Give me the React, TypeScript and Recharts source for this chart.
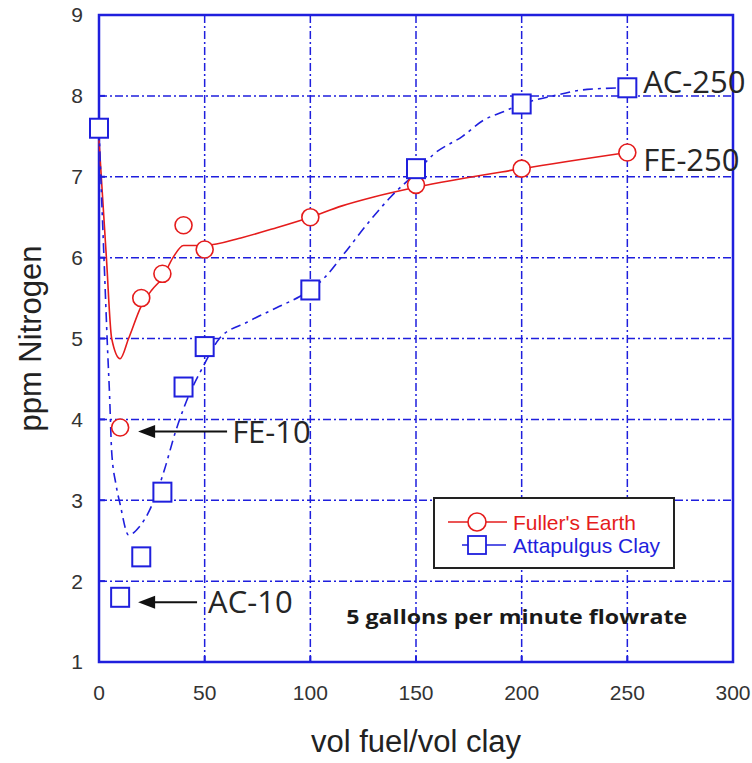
// Nitrogen in fuel vs volume of fuel treated per volume of clay (5 gpm flowrate)
import {
  ComposedChart,
  Line,
  Scatter,
  XAxis,
  YAxis,
  CartesianGrid,
  ReferenceArea,
  ReferenceLine,
  Legend,
} from "recharts";

const xTicks = [0, 50, 100, 150, 200, 250, 300];
const yTicks = [1, 2, 3, 4, 5, 6, 7, 8, 9];

const seriesNames = ["Fuller's Earth", "Attapulgus Clay"];

// measured points
const feX = [10, 20, 30, 40, 50, 100, 150, 200, 250];
const feY = [3.9, 5.5, 5.8, 6.4, 6.1, 6.5, 6.9, 7.1, 7.3];
const acX = [0, 10, 20, 30, 40, 50, 100, 150, 200, 250];
const acY = [7.6, 1.8, 2.3, 3.1, 4.4, 4.9, 5.6, 7.1, 7.9, 8.1];

// hand-drawn fit curves
const feFitX = [0, 3.5, 6, 10, 14, 20, 25, 30, 35, 40, 50, 68, 84, 100, 115, 130, 150, 200, 250];
const feFitY = [7.45, 6.0, 5.0, 4.75, 5.0, 5.4, 5.6, 5.75, 6.0, 6.15, 6.15, 6.25, 6.37, 6.5, 6.64, 6.75, 6.87, 7.1, 7.3];
const acFitX = [0, 1, 2.5, 4, 5, 6, 8, 10, 14, 19, 24, 26, 31, 36, 41, 49, 57, 70, 84, 95, 100, 107, 116, 128, 138, 150, 158, 172, 182, 191, 200, 215, 231, 250];
const acFitY = [7.6, 6.9, 5.9, 4.9, 4.3, 3.6, 3.2, 2.95, 2.57, 2.67, 2.88, 3.0, 3.38, 3.83, 4.2, 4.64, 5.0, 5.2, 5.38, 5.52, 5.6, 5.76, 6.05, 6.45, 6.75, 7.05, 7.27, 7.5, 7.7, 7.8, 7.9, 8.0, 8.08, 8.1];

// callouts
const noteText = ["FE-10", "AC-10", "FE-250", "AC-250"];
const noteX = [63, 51.6, 257.5, 257.5];
const noteY = [3.85, 1.74, 7.21, 8.17];
const arrowTipX = [18.5, 18.5];
const arrowTailX = [60.6, 46.4];
const arrowY = [3.85, 1.74];
const caption = "5 gallons per minute flowrate";
const captionX = 117;
const captionY = 1.56;

const BLUE = "#1f1fdd";
const RED = "#e51c1c";

const zip = (xs: number[], ys: number[]) => xs.map((x, i) => ({ x, y: ys[i] }));
const feData = zip(feX, feY);
const acData = zip(acX, acY);
const feFit = zip(feFitX, feFitY);
const acFit = zip(acFitX, acFitY);
const notes = noteText.map((label, i) => ({ x: noteX[i], y: noteY[i], label }));
const captionData = [{ x: captionX, y: captionY, label: caption }];

const tickStyle = { fill: "#333", fontSize: 21, fontFamily: "Liberation Sans, Arial, sans-serif" };

const Circle = (p: any) => (
  <circle cx={p.cx} cy={p.cy} r={8.5} fill="#fff" stroke={RED} strokeWidth={1.6} />
);
const Square = (p: any) => (
  <rect x={p.cx - 9} y={p.cy - 9.5} width={18} height={19} fill="#fff" stroke={BLUE} strokeWidth={2} />
);
const NoteText = (p: any) => (
  <text x={p.cx} y={p.cy} dy="0.36em" fontSize={31} fontFamily="Open Sans, sans-serif" fill="#262626">
    {p.payload.label}
  </text>
);
const CaptionText = (p: any) => (
  <text
    x={p.cx}
    y={p.cy}
    dy="0.36em"
    fontSize={19}
    fontWeight="bold"
    fontFamily="Open Sans, sans-serif"
    fill="#1a1a1a"
    textLength={341}
    lengthAdjust="spacingAndGlyphs"
  >
    {p.payload.label}
  </text>
);
const Arrow = (p: any) => {
  const { x1, y1, x2, y2 } = p;
  const tip = Math.min(x1, x2);
  const tail = Math.max(x1, x2);
  return (
    <g>
      <line x1={tip + 12} y1={y1} x2={tail} y2={y2} stroke="#111" strokeWidth={2} />
      <polygon points={`${tip},${y1} ${tip + 17},${y1 - 6.5} ${tip + 17},${y1 + 6.5}`} fill="#111" />
    </g>
  );
};

function FigLegend() {
  return (
    <svg width={242} height={72} style={{ display: "block" }}>
      <rect x={1} y={1} width={240} height={70} fill="#fff" stroke="#222" strokeWidth={2} />
      <line x1={15} y1={25} x2={74} y2={25} stroke={RED} strokeWidth={1.6} />
      <circle cx={44} cy={25} r={9} fill="#fff" stroke={RED} strokeWidth={1.6} />
      <text x={80} y={25} dy="0.36em" fontSize={21} fontFamily="Liberation Sans, Arial" fill={RED}>
        {seriesNames[0]}
      </text>
      <line x1={29} y1={48} x2={73} y2={48} stroke={BLUE} strokeWidth={1.6} />
      <rect x={35} y={39} width={18} height={18} fill="#fff" stroke={BLUE} strokeWidth={1.8} />
      <text x={80} y={48} dy="0.36em" fontSize={21} fontFamily="Liberation Sans, Arial" fill={BLUE}>
        {seriesNames[1]}
      </text>
    </svg>
  );
}

export default function App() {
  return (
    <div style={{ position: "absolute", left: 0, top: 0, background: "#fff" }}>
      <ComposedChart width={752} height={763} margin={{ top: 15, right: 19, left: 0, bottom: 0 }}>
        <CartesianGrid stroke={BLUE} strokeDasharray="8 3 2 3" strokeWidth={1.5} />
        <XAxis
          dataKey="x"
          type="number"
          domain={[0, 300]}
          ticks={xTicks}
          interval={0}
          height={101}
          axisLine={false}
          tickSize={-6}
          tickMargin={29}
          tickLine={{ stroke: BLUE, strokeWidth: 2 }}
          tick={tickStyle}
          label={{
            value: "vol fuel/vol clay",
            position: "insideBottom",
            offset: 11,
            style: { fill: "#222", fontSize: 31, fontFamily: "Liberation Sans, Arial" },
          }}
        />
        <YAxis
          dataKey="y"
          type="number"
          domain={[1, 9]}
          ticks={yTicks}
          interval={0}
          width={99}
          axisLine={false}
          tickSize={-6}
          tickMargin={22}
          tickLine={{ stroke: BLUE, strokeWidth: 2 }}
          tick={tickStyle}
          label={{
            value: "ppm Nitrogen",
            angle: -90,
            position: "insideLeft",
            offset: 30,
            style: { textAnchor: "middle", fill: "#222", fontSize: 31, fontFamily: "Liberation Sans, Arial" },
          }}
        />
        <ReferenceArea x1={0} x2={300} y1={1} y2={9} fill="none" stroke={BLUE} strokeWidth={2.5} />
        <Legend
          layout="horizontal"
          verticalAlign="middle"
          content={() => <FigLegend />}
          wrapperStyle={{ position: "absolute", left: 433, top: 497, width: 242, height: 72 }}
        />
        <Line
          data={feFit}
          dataKey="y"
          type="monotone"
          stroke={RED}
          strokeWidth={1.6}
          dot={false}
          activeDot={false}
          legendType="none"
          isAnimationActive={false}
        />
        <Line
          data={acFit}
          dataKey="y"
          type="monotone"
          stroke={BLUE}
          strokeWidth={1.6}
          strokeDasharray="10 5 3 5"
          dot={false}
          activeDot={false}
          legendType="none"
          isAnimationActive={false}
        />
        <Scatter data={feData} dataKey="y" name={seriesNames[0]} shape={Circle} isAnimationActive={false} />
        <Scatter data={acData} dataKey="y" name={seriesNames[1]} shape={Square} isAnimationActive={false} />
        {arrowY.map((y, i) => (
          <ReferenceLine
            key={i}
            segment={[
              { x: arrowTipX[i], y },
              { x: arrowTailX[i], y },
            ]}
            shape={Arrow}
          />
        ))}
        <Scatter data={notes} dataKey="y" shape={NoteText} legendType="none" isAnimationActive={false} />
        <Scatter data={captionData} dataKey="y" shape={CaptionText} legendType="none" isAnimationActive={false} />
      </ComposedChart>
    </div>
  );
}
